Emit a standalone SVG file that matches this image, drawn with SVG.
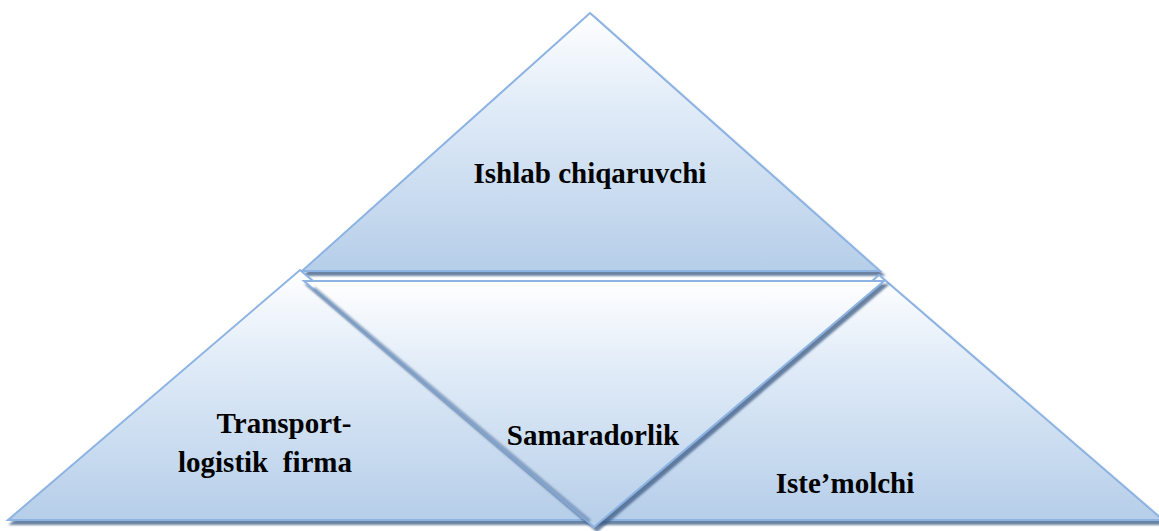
<svg xmlns="http://www.w3.org/2000/svg" width="1159" height="531" viewBox="0 0 1159 531">
  <defs>
    <linearGradient id="fillGrad" x1="0" y1="0" x2="0" y2="1">
      <stop offset="0" stop-color="#ffffff"/>
      <stop offset="0.35" stop-color="#e1ecf8"/>
      <stop offset="1" stop-color="#b6cee9"/>
    </linearGradient>
    <filter id="shadow" x="-5%" y="-5%" width="115%" height="115%">
      <feDropShadow dx="3" dy="4" stdDeviation="1.2" flood-color="#3a5a82" flood-opacity="0.75"/>
    </filter>
    <filter id="soft" x="-5%" y="-5%" width="110%" height="110%">
      <feGaussianBlur stdDeviation="0.8"/>
    </filter>
    <style>
      .tri { fill: url(#fillGrad); stroke: #8db3e2; stroke-width: 2; stroke-linejoin: miter; filter: url(#shadow); }
      .band { stroke: #5f7ea6; stroke-width: 3; stroke-opacity: 0.7; fill: none; filter: url(#soft); }
      .lbl { font-family: "Liberation Serif", "Times New Roman", serif; font-weight: bold; font-size: 29px; fill: #000000; white-space: pre; }
    </style>
  </defs>
  <rect width="1159" height="531" fill="#ffffff"/>

  <g id="node-producer">
    <polygon class="tri" points="590,13 880,271 302,271"/>
    <text class="lbl" x="590" y="183" text-anchor="middle">Ishlab chiqaruvchi</text>
  </g>

  <g id="node-consumer">
    <polygon class="tri" points="879,275 1163,520 595,520"/>
    <text class="lbl" x="845" y="493" text-anchor="middle">Iste’molchi</text>
  </g>

  <g id="node-transport">
    <polygon class="tri" points="300,270 594,520 8,520"/>
    <text class="lbl" x="284" y="433" text-anchor="middle">Transport-</text>
    <text class="lbl" x="178" y="472">logistik  firma</text>
  </g>

  <g id="node-efficiency">
    <polygon class="tri" points="304,281 884,281 594,527"/>
    <line class="band" x1="314" y1="288" x2="590" y2="521"/>
    <text class="lbl" x="593" y="445" text-anchor="middle">Samaradorlik</text>
  </g>

  <g id="connectors"></g>
</svg>
